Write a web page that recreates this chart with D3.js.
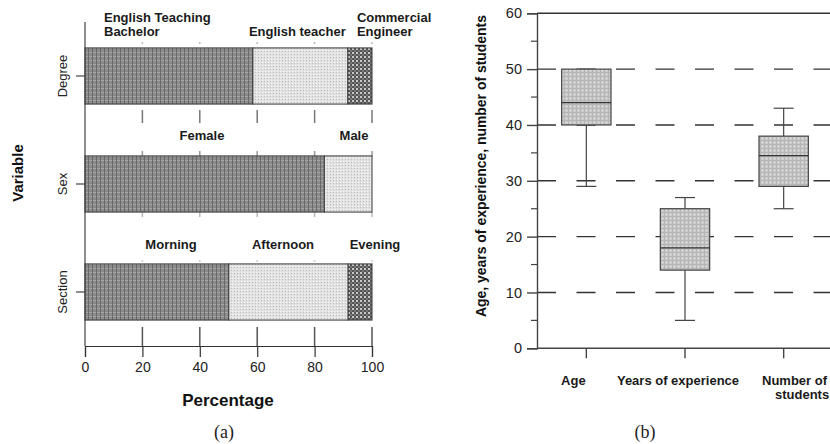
<!DOCTYPE html>
<html>
<head>
<meta charset="utf-8">
<script src="https://cdn.jsdelivr.net/npm/d3@7"></script>
<style>
  body { margin: 0; background: #fff; }
  svg { font-family: "Liberation Sans", Arial, sans-serif; }
</style>
</head>
<body>
<script>
// ---- data (a): stacked percentages
const variables = ['Degree', 'Sex', 'Section'];
const degreeCats = ['English Teaching Bachelor', 'English teacher', 'Commercial Engineer'];
const degreeVals = [58.5, 33.1, 8.4];
const sexCats = ['Female', 'Male'];
const sexVals = [83.4, 16.6];
const sectionCats = ['Morning', 'Afternoon', 'Evening'];
const sectionVals = [50.1, 41.6, 8.3];
const pctTicks = [0, 20, 40, 60, 80, 100];

// ---- data (b): box plots
const boxCats = ['Age', 'Years of experience', 'Number of students'];
const boxMin = [29, 5, 25];
const boxQ1 = [40, 14, 29];
const boxMedian = [44, 18, 34.5];
const boxQ3 = [50, 25, 38];
const boxMax = [50, 27, 43];
const yTicks = [0, 10, 20, 30, 40, 50, 60];

const outerWidth = 830;
const outerHeight = 444;

const svg = d3.select('body')
  .append('svg')
  .attr('width', outerWidth)
  .attr('height', outerHeight);

// patterns used as fills
const defs = svg.append('defs');

function makePattern(id, size, bg, dots) {
  const p = defs.append('pattern')
    .attr('id', id)
    .attr('patternUnits', 'userSpaceOnUse')
    .attr('width', size).attr('height', size);
  p.append('rect').attr('width', size).attr('height', size).attr('fill', bg);
  dots.forEach(d => {
    p.append('rect').attr('x', d[0]).attr('y', d[1])
      .attr('width', d[2]).attr('height', d[3]).attr('fill', d[4]);
  });
}
makePattern('darkGrid', 4, '#888', [[0, 0, 4, 1, '#a6a6a6'], [0, 0, 1, 4, '#6a6a6a'], [2, 2, 1, 1, '#9a9a9a']]);
makePattern('lightDots', 3, '#e2e2e2', [[0, 0, 1, 1, '#bdbdbd'], [1, 2, 1, 1, '#f6f6f6']]);
makePattern('checker', 4, '#555', [[0, 0, 2, 2, '#c8c8c8'], [2, 2, 2, 2, '#777']]);
makePattern('boxFill', 4, '#cacaca', [[0, 0, 4, 1, '#b6b6b6'], [0, 0, 1, 4, '#b6b6b6'], [2, 2, 1, 1, '#e6e6e6']]);

const fills = ['url(#darkGrid)', 'url(#lightDots)', 'url(#checker)'];

makeStackChart();
makeBoxChart();

function makeStackChart() {
  const groups = [
    {cats: degreeCats, vals: degreeVals},
    {cats: sexCats, vals: sexVals},
    {cats: sectionCats, vals: sectionVals}
  ];

  const xScale = d3.scaleLinear().domain([0, 100]).range([85, 372]);
  const yScale = d3.scaleBand()
    .domain(variables)
    .range([22, 346])
    .paddingInner(0.48)
    .paddingOuter(0.24);

  const g = svg.append('g');

  // little tick marks between panels (trellis look)
  const innerTicks = pctTicks.slice(1);
  const tickRows = [
    [42, 44, '#bbb'], [110, 123, '#777'],
    [151, 157, '#999'], [212, 217, '#bbb'],
    [260, 262, '#ccc'], [327, 346, '#555']
  ];
  tickRows.forEach(r => {
    g.selectAll(null).data(innerTicks).enter().append('line')
      .attr('x1', d => xScale(d)).attr('x2', d => xScale(d))
      .attr('y1', r[0]).attr('y2', r[1])
      .attr('stroke', r[2]).attr('stroke-width', 1.5);
  });

  groups.forEach((grp, i) => {
    const v = variables[i];
    let acc = 0;
    const segs = grp.vals.map((val, j) => {
      const s = {cat: grp.cats[j], x0: acc, x1: acc + val, j: j};
      acc += val;
      return s;
    });
    g.selectAll(null).data(segs).enter().append('rect')
      .attr('x', d => xScale(d.x0))
      .attr('y', yScale(v))
      .attr('width', d => xScale(d.x1) - xScale(d.x0))
      .attr('height', yScale.bandwidth())
      .attr('fill', d => fills[d.j])
      .attr('stroke', '#3a3a3a')
      .attr('stroke-width', 1);
  });

  // segment labels
  const lab = g.append('g')
    .attr('font-size', 13).attr('font-weight', 'bold').attr('fill', '#1a1a1a');
  // Degree
  const yDeg = yScale('Degree');
  lab.append('text').attr('x', 104).attr('y', yDeg - 26).text('English Teaching');
  lab.append('text').attr('x', 104).attr('y', yDeg - 12).text('Bachelor');
  lab.append('text').attr('x', xScale(degreeVals[0]) - 4).attr('y', yDeg - 12).text('English teacher');
  lab.append('text').attr('x', xScale(degreeVals[0] + degreeVals[1]) + 9).attr('y', yDeg - 26).text('Commercial');
  lab.append('text').attr('x', xScale(degreeVals[0] + degreeVals[1]) + 9).attr('y', yDeg - 12).text('Engineer');
  // Sex
  const ySex = yScale('Sex');
  lab.append('text').attr('x', 202).attr('y', ySex - 16).attr('text-anchor', 'middle').text('Female');
  lab.append('text').attr('x', 354).attr('y', ySex - 16).attr('text-anchor', 'middle').text('Male');
  // Section
  const ySec = yScale('Section');
  lab.append('text').attr('x', 171).attr('y', ySec - 15).attr('text-anchor', 'middle').text('Morning');
  lab.append('text').attr('x', 283).attr('y', ySec - 15).attr('text-anchor', 'middle').text('Afternoon');
  lab.append('text').attr('x', 375).attr('y', ySec - 15).attr('text-anchor', 'middle').text('Evening');

  // axes
  const xAxis = d3.axisBottom(xScale).tickValues(pctTicks).tickSize(11).tickPadding(5);
  const gx = g.append('g')
    .attr('transform', 'translate(0, 346)')
    .call(xAxis);
  gx.select('.domain').attr('stroke', '#333').attr('stroke-width', 1.2);
  gx.selectAll('.tick line').attr('stroke', '#333').attr('stroke-width', 1.2);
  gx.selectAll('.tick text').attr('font-size', 14).attr('fill', '#222')
    .attr('font-family', '"Liberation Sans", Arial, sans-serif');

  g.append('line')
    .attr('x1', 85).attr('x2', 85).attr('y1', 22).attr('y2', 346)
    .attr('stroke', '#444').attr('stroke-width', 1.2);
  variables.forEach(v => {
    const cy = yScale(v) + yScale.bandwidth() / 2;
    g.append('line').attr('x1', 76).attr('x2', 85).attr('y1', cy).attr('y2', cy)
      .attr('stroke', '#444').attr('stroke-width', 1.2);
    g.append('text')
      .attr('transform', `translate(67, ${cy}) rotate(-90)`)
      .attr('text-anchor', 'middle')
      .attr('font-size', 13).attr('fill', '#222')
      .text(v);
  });

  g.append('text')
    .attr('transform', 'translate(23, 173) rotate(-90)')
    .attr('text-anchor', 'middle')
    .attr('font-size', 15).attr('font-weight', 'bold').attr('fill', '#111')
    .text('Variable');

  g.append('text')
    .attr('x', 228).attr('y', 406)
    .attr('text-anchor', 'middle')
    .attr('font-size', 17).attr('font-weight', 'bold').attr('fill', '#111')
    .text('Percentage');

  g.append('text')
    .attr('x', 224).attr('y', 438)
    .attr('text-anchor', 'middle')
    .attr('font-family', '"Liberation Serif", "Times New Roman", serif')
    .attr('font-size', 18).attr('fill', '#222')
    .text('(a)');
}

function makeBoxChart() {
  const xScale = d3.scaleBand()
    .domain(boxCats)
    .range([537, 833])
    .padding(0);
  const yScale = d3.scaleLinear().domain([0, 60]).range([348.3, 13.3]);

  const g = svg.append('g');

  // dashed grid lines
  g.selectAll(null).data(yTicks.filter(d => d > 0 && d < 60)).enter().append('line')
    .attr('x1', 537).attr('x2', 840)
    .attr('y1', d => yScale(d)).attr('y2', d => yScale(d))
    .attr('stroke', '#333').attr('stroke-width', 1.4)
    .attr('stroke-dasharray', '19,20.5');

  // top frame at 60
  g.append('line')
    .attr('x1', 537).attr('x2', 840)
    .attr('y1', yScale(60)).attr('y2', yScale(60))
    .attr('stroke', '#333').attr('stroke-width', 1.4);

  const boxes = boxCats.map((c, i) => ({
    cat: c, min: boxMin[i], q1: boxQ1[i], med: boxMedian[i], q3: boxQ3[i], max: boxMax[i]
  }));
  const bw = xScale.bandwidth() * 0.5;
  const capW = 20;
  const cx = d => xScale(d.cat) + xScale.bandwidth() / 2;

  const bg = g.selectAll('.box').data(boxes).enter().append('g').attr('class', 'box');
  // whiskers
  bg.append('line')
    .attr('x1', cx).attr('x2', cx)
    .attr('y1', d => yScale(d.min)).attr('y2', d => yScale(d.q1))
    .attr('stroke', '#444').attr('stroke-width', 1.2);
  bg.append('line')
    .attr('x1', cx).attr('x2', cx)
    .attr('y1', d => yScale(d.q3)).attr('y2', d => yScale(d.max))
    .attr('stroke', '#444').attr('stroke-width', 1.2);
  bg.append('line')
    .attr('x1', d => cx(d) - capW / 2).attr('x2', d => cx(d) + capW / 2)
    .attr('y1', d => yScale(d.min)).attr('y2', d => yScale(d.min))
    .attr('stroke', '#444').attr('stroke-width', 1.2);
  bg.filter(d => d.max > d.q3).append('line')
    .attr('x1', d => cx(d) - capW / 2).attr('x2', d => cx(d) + capW / 2)
    .attr('y1', d => yScale(d.max)).attr('y2', d => yScale(d.max))
    .attr('stroke', '#444').attr('stroke-width', 1.2);
  // box
  bg.append('rect')
    .attr('x', d => cx(d) - bw / 2)
    .attr('y', d => yScale(d.q3))
    .attr('width', bw)
    .attr('height', d => yScale(d.q1) - yScale(d.q3))
    .attr('fill', 'url(#boxFill)')
    .attr('stroke', '#444').attr('stroke-width', 1.2);
  bg.append('line')
    .attr('x1', d => cx(d) - bw / 2).attr('x2', d => cx(d) + bw / 2)
    .attr('y1', d => yScale(d.med)).attr('y2', d => yScale(d.med))
    .attr('stroke', '#333').attr('stroke-width', 1.3);

  // y axis
  const yAxis = d3.axisLeft(yScale).tickValues(yTicks).tickSize(10).tickPadding(5);
  const gy = g.append('g').attr('transform', 'translate(537, 0)').call(yAxis);
  gy.select('.domain').attr('stroke', '#444').attr('stroke-width', 1.4);
  gy.selectAll('.tick line').attr('stroke', '#444').attr('stroke-width', 1.4);
  gy.selectAll('.tick text').attr('font-size', 14.5).attr('fill', '#222')
    .attr('font-family', '"Liberation Sans", Arial, sans-serif');
  // minor ticks
  g.selectAll(null).data([5, 15, 25, 35, 45, 55]).enter().append('line')
    .attr('x1', 531).attr('x2', 537)
    .attr('y1', d => yScale(d)).attr('y2', d => yScale(d))
    .attr('stroke', '#444').attr('stroke-width', 1.2);

  // x axis
  g.append('line')
    .attr('x1', 537).attr('x2', 840).attr('y1', yScale(0)).attr('y2', yScale(0))
    .attr('stroke', '#444').attr('stroke-width', 1.4);
  g.selectAll(null).data(boxCats).enter().append('line')
    .attr('x1', d => xScale(d) + xScale.bandwidth() / 2)
    .attr('x2', d => xScale(d) + xScale.bandwidth() / 2)
    .attr('y1', yScale(0)).attr('y2', yScale(0) + 10)
    .attr('stroke', '#444').attr('stroke-width', 1.4);

  const labelDx = [-13, -7, 0];
  const xl = g.append('g').attr('font-size', 13).attr('font-weight', 'bold').attr('fill', '#1a1a1a');
  xl.append('text')
    .attr('x', xScale(boxCats[0]) + xScale.bandwidth() / 2 + labelDx[0]).attr('y', 385)
    .attr('text-anchor', 'middle').text('Age');
  xl.append('text')
    .attr('x', xScale(boxCats[1]) + xScale.bandwidth() / 2 + labelDx[1]).attr('y', 385)
    .attr('text-anchor', 'middle').text('Years of experience');
  xl.append('text')
    .attr('x', 762).attr('y', 385).text('Number of');
  xl.append('text')
    .attr('x', 775).attr('y', 399).text('students');

  g.append('text')
    .attr('transform', 'translate(486, 166) rotate(-90)')
    .attr('text-anchor', 'middle')
    .attr('font-size', 14).attr('font-weight', 'bold').attr('fill', '#111')
    .attr('textLength', 302).attr('lengthAdjust', 'spacingAndGlyphs')
    .text('Age, years of experience, number of students');

  g.append('text')
    .attr('x', 645).attr('y', 438)
    .attr('text-anchor', 'middle')
    .attr('font-family', '"Liberation Serif", "Times New Roman", serif')
    .attr('font-size', 18).attr('fill', '#222')
    .text('(b)');
}
</script>
</body>
</html>
